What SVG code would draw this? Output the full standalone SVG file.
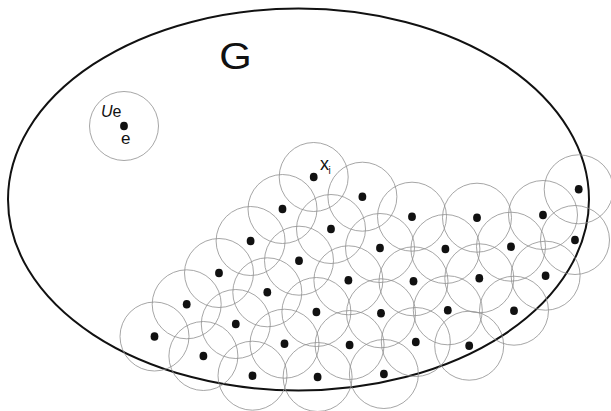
<svg xmlns="http://www.w3.org/2000/svg" width="611" height="411" viewBox="0 0 611 411">
<style>
.c{fill:none;stroke:#8f8f8f;stroke-width:0.8}
.d{fill:#111}
.t{font-family:"Liberation Sans",Arial,sans-serif;fill:#111}
</style>
<defs>
<g id="n"><circle class="c" r="34.5"/><ellipse class="d" rx="3.9" ry="4.3"/></g>
</defs>
<rect width="611" height="411" fill="#fff"/>
<g id="G-set">
<ellipse cx="298.5" cy="199.5" rx="290.5" ry="191" fill="none" stroke="#111" stroke-width="2"/>
<text class="t" transform="translate(219.3,68.6) scale(1.16,1)" font-size="36">G</text>
</g>
<g id="Ue">
<use href="#n" x="124" y="126"/>
<text class="t" x="101" y="116.7" font-size="16"><tspan font-style="italic">U</tspan>e</text>
<text class="t" x="121" y="144" font-size="17">e</text>
</g>
<g id="xi">
<use href="#n" x="313.7" y="177"/>
<text class="t" x="320" y="170" font-size="18">x</text>
<text class="t" x="328.6" y="174.3" font-size="10">i</text>
</g>
<g id="cover">
<use href="#n" x="362.4" y="196.7"/>
<use href="#n" x="578.7" y="189.3"/>
<use href="#n" x="282.5" y="209"/>
<use href="#n" x="412" y="216.7"/>
<use href="#n" x="477" y="217.7"/>
<use href="#n" x="543" y="215"/>
<use href="#n" x="331" y="229"/>
<use href="#n" x="250.6" y="241"/>
<use href="#n" x="380" y="248"/>
<use href="#n" x="445.4" y="249"/>
<use href="#n" x="511" y="246.7"/>
<use href="#n" x="575" y="240"/>
<use href="#n" x="299" y="260.7"/>
<use href="#n" x="219" y="273"/>
<use href="#n" x="348.4" y="280.3"/>
<use href="#n" x="413.5" y="281.3"/>
<use href="#n" x="479.3" y="278.3"/>
<use href="#n" x="545.6" y="275.7"/>
<use href="#n" x="267.3" y="292.3"/>
<use href="#n" x="186.7" y="304.3"/>
<use href="#n" x="316.4" y="312"/>
<use href="#n" x="381" y="313.3"/>
<use href="#n" x="447.8" y="310.3"/>
<use href="#n" x="514" y="310.7"/>
<use href="#n" x="235.8" y="324"/>
<use href="#n" x="154.5" y="336.5"/>
<use href="#n" x="284.5" y="343.7"/>
<use href="#n" x="349.6" y="345"/>
<use href="#n" x="415.8" y="342"/>
<use href="#n" x="469.2" y="345.7"/>
<use href="#n" x="203.4" y="356"/>
<use href="#n" x="252.5" y="375.7"/>
<use href="#n" x="317.6" y="377"/>
<use href="#n" x="383.9" y="374"/>
</g>
<g id="connectors"/>
</svg>
